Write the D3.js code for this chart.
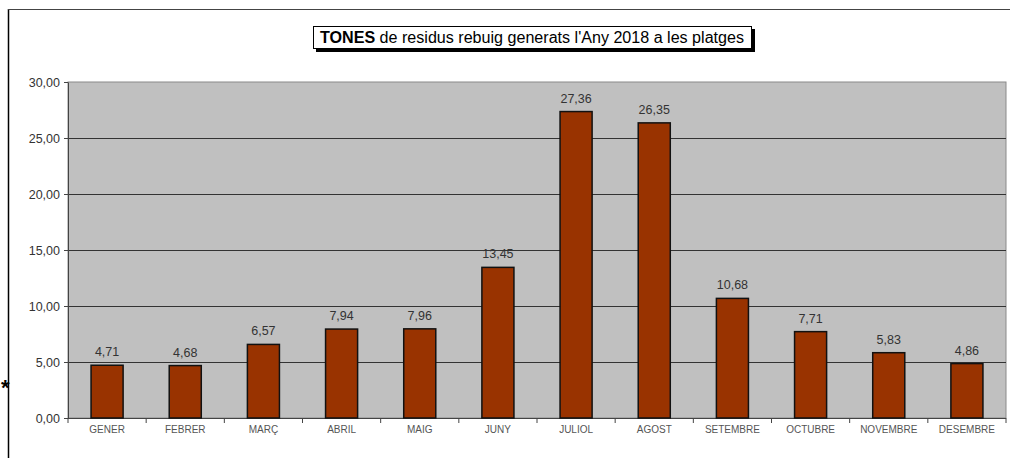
<!DOCTYPE html>
<html><head><meta charset="utf-8">
<script src="https://cdn.jsdelivr.net/npm/d3@7"></script>
<style>html,body{margin:0;padding:0;background:#fff;}svg{display:block;}</style>
</head><body>
<script>
const months = ["GENER","FEBRER","MARÇ","ABRIL","MAIG","JUNY","JULIOL","AGOST","SETEMBRE","OCTUBRE","NOVEMBRE","DESEMBRE"];
const tones = [4.71,4.68,6.57,7.94,7.96,13.45,27.36,26.35,10.68,7.71,5.83,4.86];
const yTicks = [0,5,10,15,20,25,30];
const titleBold = "TONES";
const titleRest = " de residus rebuig generats l'Any 2018 a les platges";

const W = 1010, H = 458;
const m = {left: 68, right: 1006, top: 82, bottom: 418};
const svg = d3.select("body").append("svg").attr("width", W).attr("height", H);
const fmt = v => d3.format(".2f")(v).replace(".", ",");

// outer frame
svg.append("line").attr("x1", 8.5).attr("x2", 8.5).attr("y1", 9).attr("y2", H).attr("stroke", "#000").attr("stroke-width", 1.5);
svg.append("line").attr("x1", 8).attr("x2", W).attr("y1", 9.5).attr("y2", 9.5).attr("stroke", "#444").attr("stroke-width", 1);

const x = d3.scaleBand().domain(months).range([m.left, m.right]).paddingInner(0.59).paddingOuter(0.295);
const xb = d3.scaleBand().domain(months).range([m.left, m.right]);
const y = d3.scaleLinear().domain([0, 30]).range([m.bottom, m.top]);

// plot background
svg.append("rect").attr("x", m.left).attr("y", m.top).attr("width", m.right - m.left).attr("height", m.bottom - m.top)
  .attr("fill", "#c0c0c0").attr("stroke", "#8a8a8a").attr("stroke-width", 1);

// gridlines
svg.append("g").selectAll("line").data(yTicks.filter(t => t > 0 && t < 30)).join("line")
  .attr("x1", m.left).attr("x2", m.right).attr("y1", d => Math.round(y(d)) + 0.5).attr("y2", d => Math.round(y(d)) + 0.5)
  .attr("stroke", "#333").attr("stroke-width", 1);

// y axis
const yAxis = svg.append("g").attr("transform", `translate(${m.left},0)`)
  .call(d3.axisLeft(y).tickValues(yTicks).tickFormat(fmt).tickSize(4).tickSizeOuter(0));
yAxis.select(".domain").attr("stroke", "#444");
yAxis.selectAll(".tick line").attr("stroke", "#444");
yAxis.selectAll("text").attr("font-family", "Liberation Sans, Arial, sans-serif").attr("font-size", 12.5).attr("fill", "#333").attr("x", -8);

// x axis
const xAxis = svg.append("g").attr("transform", `translate(0,${m.bottom})`)
  .call(d3.axisBottom(x).tickSize(0).tickSizeOuter(0));
xAxis.select(".domain").remove();
xAxis.selectAll("text").attr("font-family", "Liberation Sans, Arial, sans-serif").attr("font-size", 10).attr("fill", "#555").attr("dy", "1.05em").attr("y", 4);
svg.append("line").attr("x1", m.left - 4).attr("x2", m.right).attr("y1", m.bottom + 0.5).attr("y2", m.bottom + 0.5).attr("stroke", "#444").attr("stroke-width", 1.2);
const bounds = months.map(d => xb(d)).concat([m.right]);
svg.append("g").selectAll("line").data(bounds).join("line")
  .attr("x1", d => d).attr("x2", d => d).attr("y1", m.bottom).attr("y2", m.bottom + 5)
  .attr("stroke", "#444").attr("stroke-width", 1);

// bars
svg.append("g").selectAll("rect").data(tones).join("rect")
  .attr("x", (d, i) => x(months[i])).attr("width", x.bandwidth())
  .attr("y", d => y(d)).attr("height", d => y(0) - y(d))
  .attr("fill", "#993300").attr("stroke", "#111").attr("stroke-width", 1.5);

// value labels
svg.append("g").selectAll("text").data(tones).join("text")
  .attr("x", (d, i) => x(months[i]) + x.bandwidth() / 2).attr("y", d => y(d) - 9)
  .attr("text-anchor", "middle").attr("font-family", "Liberation Sans, Arial, sans-serif").attr("font-size", 12.5).attr("fill", "#333")
  .text(d => fmt(d));

// title box with shadow
svg.append("rect").attr("x", 316).attr("y", 29).attr("width", 439).attr("height", 23).attr("fill", "#000");
svg.append("rect").attr("x", 313.5).attr("y", 26.5).attr("width", 438).attr("height", 22).attr("fill", "#fff").attr("stroke", "#000").attr("stroke-width", 1);
const t = svg.append("text").attr("x", 532).attr("y", 43).attr("text-anchor", "middle")
  .attr("font-family", "Liberation Sans Narrow, Liberation Sans, Arial, sans-serif").attr("font-size", 16).attr("fill", "#000")
  .attr("textLength", 424).attr("lengthAdjust", "spacingAndGlyphs");
t.append("tspan").attr("font-weight", "bold").text(titleBold);
t.append("tspan").text(titleRest);

// asterisk
svg.append("text").attr("x", 1).attr("y", 395).attr("font-family", "Liberation Sans, Arial, sans-serif").attr("font-size", 22).attr("font-weight", "bold").attr("fill", "#000").text("*");
</script>
</body></html>
